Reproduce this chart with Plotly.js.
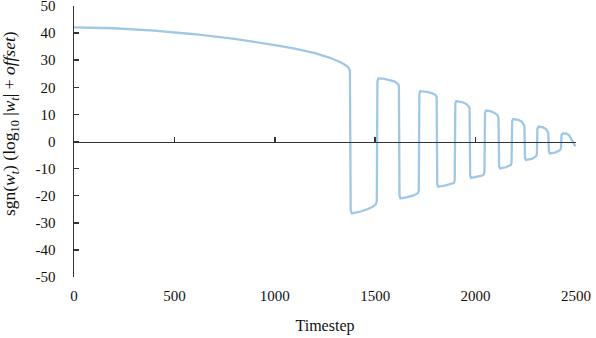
<!DOCTYPE html>
<html>
<head>
<meta charset="utf-8">
<script src="https://cdn.plot.ly/plotly-3.0.1.min.js"></script>
<style>html,body{margin:0;padding:0;background:#fff;}#chart{width:596px;height:338px;}</style>
</head>
<body>
<div id="chart"></div>
<script>
// Timestep values
var timestep = [
  0, 200, 400, 600, 800, 900, 1000, 1100, 1200, 1275, 1330, 1358, 1368, 1374,
  1378, 1384, 1420, 1460, 1490, 1503, 1508,
  1511, 1516, 1540, 1570, 1595, 1612, 1618,
  1621, 1626, 1660, 1695, 1712, 1717,
  1720, 1725, 1760, 1785, 1800, 1806,
  1809, 1814, 1850, 1880, 1891, 1896,
  1899, 1904, 1935, 1955, 1966, 1970,
  1973, 1978, 2010, 2032, 2040, 2044,
  2047, 2052, 2078, 2098, 2110, 2114,
  2117, 2122, 2152, 2170, 2176, 2179,
  2182, 2187, 2212, 2230, 2239, 2243,
  2246, 2251, 2280, 2297, 2302, 2305,
  2308, 2313, 2337, 2352, 2359, 2362,
  2365, 2370, 2395, 2414, 2421, 2425,
  2428, 2434, 2452, 2465, 2478, 2488, 2497
];
// sgn(w_t)(log10|w_t| + offset) values
var signedLogValue = [
  42.1, 41.8, 40.9, 39.6, 37.9, 36.8, 35.6, 34.3, 32.6, 30.9, 29.2, 27.9, 27.2, 26.0,
  -25.4, -26.5, -26.0, -25.0, -24.0, -23.2, -22.0,
  22.2, 23.3, 23.2, 22.8, 22.2, 21.3, 20.6,
  -20.0, -21.0, -20.5, -19.8, -19.1, -18.2,
  17.6, 18.6, 18.3, 17.8, 17.2, 16.5,
  -15.8, -16.7, -16.2, -15.7, -15.3, -14.4,
  14.0, 14.9, 14.5, 13.8, 13.0, 12.2,
  -12.6, -13.4, -13.0, -12.6, -12.2, -11.4,
  10.6, 11.4, 11.1, 10.4, 9.6, 8.8,
  -9.1, -9.9, -9.5, -9.0, -8.6, -7.8,
  7.6, 8.3, 8.0, 7.3, 6.6, 5.9,
  -6.1, -6.8, -6.4, -5.8, -5.4, -4.7,
  4.8, 5.5, 5.2, 4.5, 3.8, 3.1,
  -3.7, -4.4, -4.1, -3.6, -3.2, -2.4,
  2.4, 3.0, 2.9, 2.4, 0.6, -1.0, -1.8
];
var xTicks = [0, 500, 1000, 1500, 2000, 2500];
var xTickText = ['0', '500', '1000', '1500', '2000', '2500'];
var yTicks = [-50, -40, -30, -20, -10, 0, 10, 20, 30, 40, 50];
var yTickText = ['-50', '-40', '-30', '-20', '-10', '0', '10', '20', '30', '40', '50'];

var font = {family: '"Liberation Serif", "DejaVu Serif", serif', size: 15, color: '#111'};
var axisColor = '#333';

var traces = [
  {x: timestep, y: signedLogValue, type: 'scatter', mode: 'lines',
   line: {color: 'rgb(160,199,228)', width: 2.3}, hoverinfo: 'skip', showlegend: false},
  {x: [], y: [], xaxis: 'x2', type: 'scatter', mode: 'lines', showlegend: false, hoverinfo: 'skip'}
];

var layout = {
  width: 596, height: 338,
  margin: {l: 74, r: 20, t: 6, b: 61},
  paper_bgcolor: '#fff', plot_bgcolor: '#fff',
  font: font,
  showlegend: false,
  xaxis: {
    range: [0, 2500], showline: false, showgrid: false, zeroline: false,
    ticks: '', tickvals: xTicks, ticktext: xTickText, tickfont: font,
    ticklabelstandoff: 8, ticklabeloverflow: 'allow',
    title: {text: 'Timestep', font: {family: font.family, size: 16, color: '#111'}, standoff: 16}
  },
  xaxis2: {
    overlaying: 'x', anchor: 'free', position: 0.5, side: 'bottom',
    range: [0, 2500], showline: true, linecolor: axisColor, linewidth: 1.5,
    ticks: 'inside', ticklen: 5, tickwidth: 1.5, tickcolor: axisColor,
    tickvals: xTicks, showticklabels: false, showgrid: false, zeroline: false
  },
  yaxis: {
    range: [-50, 50.02], showline: true, linecolor: axisColor, linewidth: 1.5,
    ticks: 'inside', ticklen: 5, tickwidth: 1.5, tickcolor: axisColor,
    tickvals: yTicks, ticktext: yTickText, tickfont: font,
    ticklabelstandoff: 14, ticklabeloverflow: 'allow',
    showgrid: false, zeroline: false
  },
  annotations: [{
    xref: 'paper', yref: 'paper', x: -0.1265, y: 0.566,
    xanchor: 'center', yanchor: 'middle', textangle: -90, showarrow: false,
    text: 'sgn(<i>w</i><sub><i>t</i></sub>) (log<sub>10</sub> |<i>w</i><sub><i>t</i></sub>| + <i>offset</i>)',
    font: {family: font.family, size: 17.5, color: '#111'}
  }]
};

Plotly.newPlot('chart', traces, layout, {staticPlot: true, displayModeBar: false});
</script>
</body>
</html>
